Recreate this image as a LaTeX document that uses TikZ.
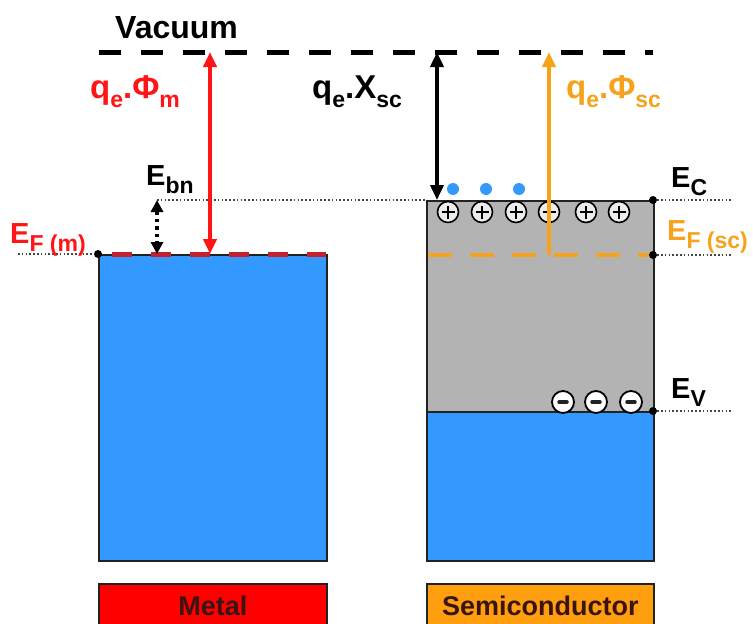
\documentclass[tikz,border=0pt]{standalone}
\usepackage{fontspec}
\setmainfont{Liberation Sans}
\usetikzlibrary{arrows.meta}
\definecolor{bandblue}{HTML}{3399FF}
\definecolor{gapgray}{HTML}{B3B3B3}
\definecolor{mred}{HTML}{FF1515}
\definecolor{mdred}{HTML}{C4202E}
\definecolor{scorange}{HTML}{F7A21B}
\definecolor{lblorange}{HTML}{FF9F10}
\definecolor{labtext}{HTML}{3A1410}
\definecolor{edgec}{HTML}{222222}
\definecolor{dotgray}{HTML}{444444}
\newcommand{\sbx}[1]{\raisebox{-0.3em}{\fontsize{23}{23}\selectfont #1}}
\begin{document}
\begin{tikzpicture}[x=1pt,y=-1pt,
  bigtxt/.style={inner sep=0pt, anchor=base west, font=\bfseries\fontsize{33}{33}\selectfont},
  etxt/.style={inner sep=0pt, anchor=base west, font=\bfseries\fontsize{29}{29}\selectfont},
  band/.style={draw=edgec, line width=1.6pt, anchor=north west, inner sep=0pt},
  tag/.style={draw=edgec, line width=1.6pt, anchor=north west, inner sep=0pt, minimum height=44pt, text=labtext, font=\bfseries\fontsize{27}{27}\selectfont},
  dotline/.style={dotgray, line width=2pt, dash pattern=on 1.6pt off 2.2pt},
  enddot/.style={circle, fill=black, inner sep=0pt, minimum size=8pt},
  edot/.style={circle, fill=bandblue, inner sep=0pt, minimum size=12pt},
  pluschg/.style={circle, draw=black, line width=1.6pt, fill=white!85!gray, minimum size=21pt, inner sep=0pt,
    path picture={\draw[line width=1.6pt] (path picture bounding box.center) ++(-6.5pt,0) -- ++(13pt,0)
      (path picture bounding box.center) ++(0,-6.5pt) -- ++(0,13pt);}},
  minuschg/.style={circle, draw=black, line width=1.8pt, fill=white, minimum size=22pt, inner sep=0pt,
    path picture={\draw[line width=3.5pt, line cap=round, edgec] (path picture bounding box.center) ++(-4pt,0) -- ++(8pt,0);}},
  tipT/.tip={Triangle[length=15pt,width=13pt]},
  smallT/.tip={Triangle[length=12pt,width=12pt]}
]
\useasboundingbox (0,0) rectangle (753,624);
\fill[white] (0,0) rectangle (753,624);

% bands
\node[band, fill=bandblue, minimum width=228pt, minimum height=306pt] (metal) at (98,254) {};
\node[band, fill=gapgray, minimum width=227pt, minimum height=211pt] (gap) at (426,200) {};
\node[band, fill=bandblue, minimum width=227pt, minimum height=149pt] (vb) at (426,411) {};

% material tags
\node[tag, fill=red, minimum width=228pt] (metaltag) at (98,583) {Metal};
\node[tag, fill=lblorange, minimum width=227pt] (sctag) at (426,583) {Semiconductor};

% level coordinates
\coordinate (vacL) at (99,52);
\coordinate (vacR) at (653,52);
\coordinate (efmL) at (18,254);
\coordinate (efmR) at (326,254);
\coordinate (ecL) at (157,200);
\coordinate (ecR) at (733,200);
\coordinate (efsR) at (733,255);
\coordinate (evR) at (733,411);
\coordinate (efsL) at (428,255);
\coordinate (mtop) at (210,52);
\coordinate (mbot) at (210,254);
\coordinate (xtop) at (437,52);
\coordinate (xbot) at (437,200);
\coordinate (otop) at (549,52);
\coordinate (obot) at (549,255);
\coordinate (btop) at (157,200);
\coordinate (bbot) at (157,254);

% end dots
\node[enddot] (dm) at (98,254) {};
\node[enddot] (dc) at (653,200) {};
\node[enddot] (df) at (653,255) {};
\node[enddot] (dv) at (653,411) {};

% dotted level lines
\draw[dotline] (efmL) -- (dm);
\draw[dotline] (ecL) -- (gap.north west);
\draw[dotline] (dc) -- (ecR);
\draw[dotline] (df) -- (efsR);
\draw[dotline] (dv) -- (evR);

% vacuum and Fermi dashed lines
\draw[black, line width=5pt, dash pattern=on 22pt off 20pt] (vacL) -- (vacR);
\draw[mdred, line width=5pt, dash pattern=on 20pt off 19pt, dash phase=29pt] (dm) -- (efmR);
\draw[scorange, line width=4.5pt, dash pattern=on 24pt off 18pt] (efsL) -- (df.west);

% electrons
\node[edot] (e1) at (453,189) {};
\node[edot] (e2) at (486,189) {};
\node[edot] (e3) at (519,189) {};

% ionised donors
\node[pluschg] (p1) at (448,212) {};
\node[pluschg] (p2) at (482,212) {};
\node[pluschg] (p3) at (516,212) {};
\node[pluschg] (p4) at (549,212) {};
\node[pluschg] (p5) at (586,212) {};
\node[pluschg] (p6) at (619,212) {};

% negative charges
\node[minuschg] (n1) at (563,402) {};
\node[minuschg] (n2) at (596,402) {};
\node[minuschg] (n3) at (631,402) {};

% arrows
\draw[mred, line width=4pt, {tipT}-{tipT}] (mbot) -- (mtop);
\draw[black, line width=3.6pt, {tipT}-{tipT}] (xtop) -- (xbot);
\draw[scorange, line width=4pt, -{tipT}] (obot) -- (otop);
\draw[black, line width=3.5pt, dash pattern=on 3.5pt off 4pt, {smallT}-{smallT}] (btop) -- (bbot);

% texts
\node[bigtxt, font=\bfseries\fontsize{32}{32}\selectfont] (vac) at (115,38) {Vacuum};
\node[bigtxt, text=mred] (phim) at (90,98) {q\sbx{e}.Φ\sbx{m}};
\node[bigtxt] (chisc) at (312,98) {q\sbx{e}.X\sbx{sc}};
\node[bigtxt, text=scorange] (phisc) at (566,98) {q\sbx{e}.Φ\sbx{sc}};
\node[etxt] (ebn) at (146,185) {E\sbx{bn}};
\node[etxt, text=mred] (efm) at (10,243) {E\sbx{F (m)}};
\node[etxt] (ec) at (671,187) {E\sbx{C}};
\node[etxt, text=scorange] (efs) at (667,240) {E\sbx{F (sc)}};
\node[etxt] (ev) at (671,398) {E\sbx{V}};
\end{tikzpicture}
\end{document}
